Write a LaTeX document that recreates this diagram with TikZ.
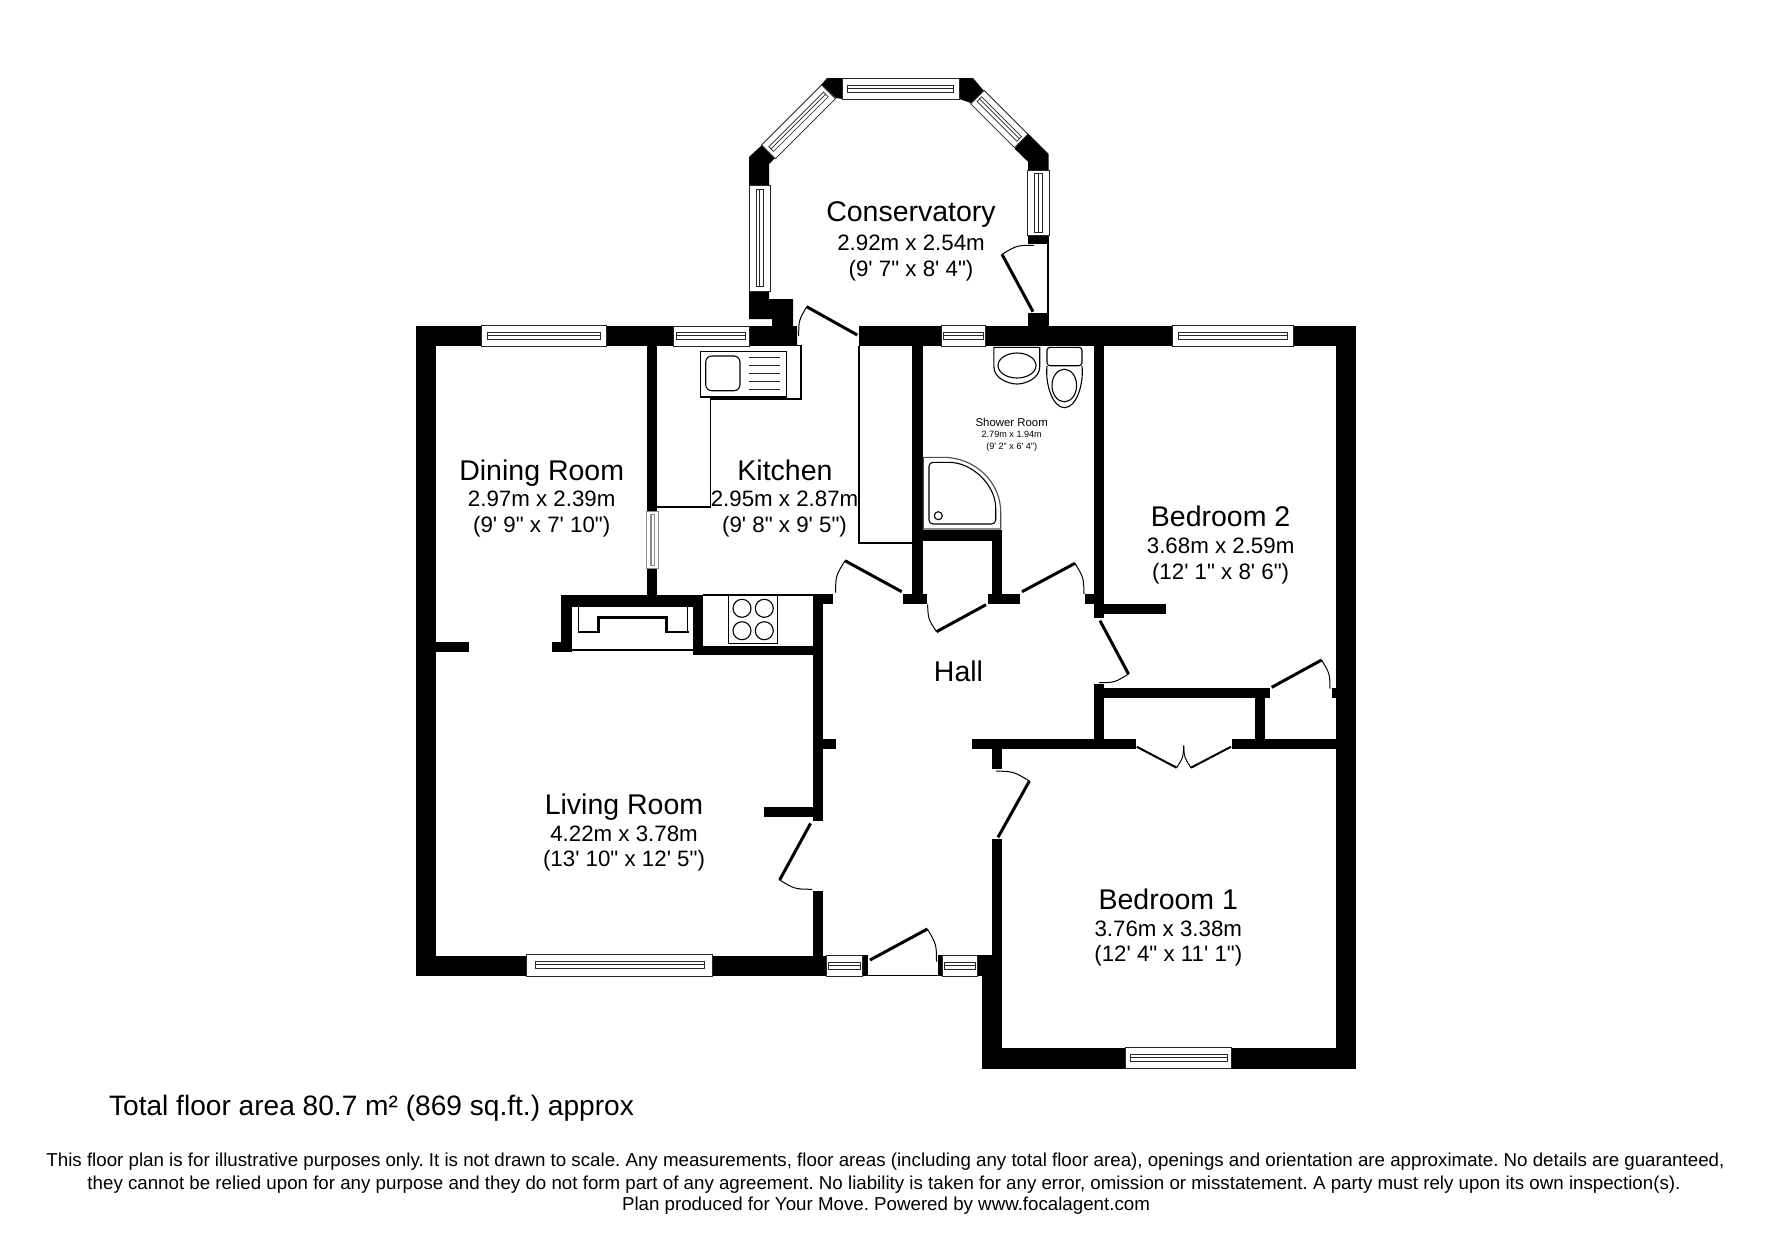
\documentclass[tikz,border=0pt]{standalone}
\usepackage{fontspec}
\setmainfont{Liberation Sans}[Ligatures=TeXOff]
\frenchspacing
\newcommand{\wl}[4]{\fill[black] (#1,#2) rectangle (#3,#4);}
\newcommand{\wpoly}[1]{\fill[black] #1 -- cycle;}
\newcommand{\win}[6][black!85]{%
  \begin{scope}[shift={(#2,#3)},rotate=#6]
    \pgfmathsetmacro\hl{#4/2}\pgfmathsetmacro\ht{#5/2}
    \pgfmathsetmacro\il{\hl-0.045*#4}\pgfmathsetmacro\it{0.17*#5}
    \draw[winout,draw=#1] (-\hl,-\ht) rectangle (\hl,\ht);
    \draw[winin,draw=#1] (-\il,-\it) rectangle (\il,\it);
    \draw[winin,draw=#1] (-\il,-0.3) -- (\il,-0.3);
  \end{scope}}
\newcommand{\door}[7][3]{%
  \pgfmathsetmacro\cx{#2+((#4-#2)+(#6-#2))*0.536}
  \pgfmathsetmacro\cy{#3+((#5-#3)+(#7-#3))*0.536}
  \draw[line width=#1pt] (#2,#3) -- (#4,#5);
  \draw[line width=1pt] (#4,#5) .. controls (\cx,\cy) .. (#6,#7);}
\newcommand{\lab}[5]{\node[txt,font=\fontsize{#4}{#4}\selectfont] (#1) at (#2,#3) {#5};}
\begin{document}
\begin{tikzpicture}[x=1pt,y=-1pt,
  winout/.style={line width=0.8pt,fill=white},
  winin/.style={line width=0.7pt},
  thinline/.style={draw=black,line width=1.1pt},
  fixture/.style={draw=black,line width=1.1pt},
  txt/.style={anchor=base,inner sep=0pt,text=black}]
\useasboundingbox (0,0) rectangle (1771,1240);
\fill[white] (0,0) rectangle (1771,1240);

% outer walls
\wl{415.5}{326}{797}{345.5}
\wl{415.5}{326}{436}{976}
\wl{415.5}{955.7}{826.7}{976}
\wl{859}{326}{1356}{346}
\wl{1335.7}{326}{1356}{1069}
\wl{982}{1048.3}{1356}{1069}
\wl{982}{976}{1002.3}{1069}
\wl{992}{839}{1002.3}{1049}
\wl{977}{955.3}{992}{976}
\wl{862}{955.3}{868.4}{976}
\wl{938}{955.3}{942.7}{976}

% conservatory
\wpoly{(749,291) -- (769,291) -- (769,299) -- (793,299) -- (793,327) -- (797,327) -- (797,345) -- (749,345) -- (749,326) -- (772,326) -- (772,319) -- (749,319)}
\wpoly{(749,157) -- (762,145) -- (775,158) -- (769,164) -- (769,185) -- (749,185)}
\wpoly{(821,85) -- (827,78) -- (843,78) -- (843,99) -- (836,98)}
\wpoly{(959,78) -- (973,78) -- (984,91) -- (971,103) -- (959,99)}
\wpoly{(1027.5,133) -- (1048.6,154) -- (1048.6,171) -- (1028,171) -- (1028,161.7) -- (1014.6,148.7)}
\wl{1028}{235}{1048.6}{244}
\wl{1028}{313.3}{1048.6}{327}
\draw[thinline] (1048,244) -- (1048,314);

% interior walls
\wl{647}{346}{657}{595}
\wl{561}{594.7}{703}{606.7}
\wl{561}{594.7}{571.7}{652}
\wl{551.7}{641.7}{571.7}{652.3}
\wl{571.7}{648.5}{693}{651}
\wl{693}{606}{703.3}{655}
\wl{693}{646}{823.3}{655}
\wl{812.5}{594.7}{823.3}{821}
\wl{812.5}{890.7}{823.3}{976}
\wl{813}{594}{833.3}{604.3}
\wl{823}{738.7}{836}{749}
\wl{764.3}{807}{813}{817}
\wl{435}{641.7}{469}{652.3}
\wl{912}{346}{922.5}{604.3}
\wl{903}{594}{926.5}{604.3}
\wl{912}{530}{1002.4}{540.7}
\wl{992.4}{530}{1002.4}{604.3}
\wl{987.6}{594}{1020}{604.3}
\wl{1094}{346}{1104}{618.3}
\wl{1085}{594}{1104}{604.3}
\wl{1094}{604}{1165.5}{613.7}
\wl{1094}{684}{1104}{749}
\wl{1094}{687.7}{1270.2}{698.3}
\wl{1255.4}{698}{1265.4}{739}
\wl{972.4}{738.7}{1136}{749}
\wl{1231.7}{738.7}{1336}{749}
\wl{1331.6}{687.7}{1336}{698.3}
\wl{992.4}{749}{1002.4}{769.3}

% windows
\win{543.85}{336}{124.3}{21}{0}
\win{711}{336}{76}{20}{0}
\win{963.2}{336}{44.4}{21}{0}
\win{1232.75}{336}{120.5}{21}{0}
\win{619.5}{965}{185.6}{22}{0}
\win{844.35}{965.5}{35.3}{21}{0}
\win{959.85}{965.5}{34.3}{21}{0}
\win{1178.7}{1058}{106}{21.7}{0}
\win{900.75}{88.8}{116.5}{21}{0}
\win{759.5}{238}{106}{21}{90}
\win{1038.5}{203}{64.3}{22}{90}
\win[black!45]{652}{540}{56.6}{12}{90}
\win{798.5}{121.8}{85}{19.5}{45}
\win{999.3}{119}{61.9}{19}{-45}

% doors
\door{857.3}{335}{806.7}{306.7}{798.7}{336}
\door{1033}{311.7}{1002}{254.3}{1034}{245.3}
\door{901.7}{591.7}{845}{560.7}{835.5}{592.7}
\door{986}{604.7}{936.5}{631.7}{927.6}{604.3}
\door{1022}{591.7}{1075}{563.3}{1084}{594}
\door{1100}{620.7}{1128.5}{674}{1099}{682.7}
\door{1271.7}{687.3}{1321.6}{660}{1330}{688.7}
\door[2]{1136.7}{746.7}{1176.6}{767.7}{1183.7}{745.7}
\door[2]{1231}{746.7}{1191}{767.7}{1183.7}{745.7}
\door{998}{837.3}{1029.4}{781}{996}{771}
\door{810.6}{823.3}{779.6}{880}{812}{889.3}
\door{870}{960}{927.4}{929}{936.5}{961.7}
\draw[thinline] (868,975.3) -- (938,975.3);

% kitchen fittings
\draw[thinline] (797,345.5) -- (801,345.5) -- (801,399) -- (710.3,399) -- (710.3,507) -- (657,507);
\draw[thinline] (859,346) -- (859,543) -- (912,543);
\draw[thinline] (703,595) -- (813,595);
\draw[fixture,fill=white] (700.3,351.7) rectangle (786.7,397);
\draw[line width=1.6pt] (710.3,398) -- (786.7,398);
\draw[fixture,rounded corners=6pt] (705.7,356) rectangle (740,390.7);
\foreach \ly in {357.7,365.7,373.7,381.7,389.7}{\draw[line width=1pt,black!85] (748.7,\ly) -- (780,\ly);}
\draw[fixture] (728.3,595.3) rectangle (777.7,643.3);
\draw[fixture] (742,608.3) circle[radius=9pt];
\draw[fixture] (764.3,608.3) circle[radius=9pt];
\draw[fixture] (742,630.7) circle[radius=9pt];
\draw[fixture] (764.3,630.7) circle[radius=9pt];

% fireplace
\draw[line width=1pt] (578.3,606.7) -- (578.3,632);
\draw[line width=1pt] (687.7,606.7) -- (687.7,632);
\draw[line width=2.6pt] (577.5,632) -- (598.3,632) -- (598.3,617.7) -- (666.7,617.7) -- (666.7,632) -- (688.5,632);

% shower room fittings
\draw[fixture] (993.9,347.3) -- (1039.7,347.3) -- (1039.7,367) .. controls (1039.7,378) and (1026,384) .. (1017,384) .. controls (1008,384) and (993.9,378) .. (993.9,367) -- cycle;
\draw[fixture] (1017,365.5) ellipse[x radius=19pt,y radius=12.5pt];
\draw[fixture,rounded corners=3pt] (1047,347.3) rectangle (1082,365.7);
\draw[fixture] (1047,366) .. controls (1045,385) and (1053,407.7) .. (1064.5,407.7) .. controls (1076,407.7) and (1084,385) .. (1082,366);
\draw[fixture] (1064.3,385.5) ellipse[x radius=12.3pt,y radius=16.3pt];
\draw[draw=black!70,line width=1.1pt] (923.3,529) -- (923.3,457.3) -- (943,457.3) .. controls (975,457.3) and (1000.7,482) .. (1000.7,512) -- (1000.7,529) -- cycle;
\draw[fixture,rounded corners=4pt] (929,524) -- (929,462.3) -- (945,462.3) .. controls (972,462.3) and (995.7,485) .. (995.7,512) -- (995.7,524) -- cycle;
\draw[fixture] (938.3,515.7) circle[radius=4pt];

% labels
\lab{consA}{911}{221.7}{28.5}{Conservatory}
\lab{consB}{911}{250}{22.3}{2.92m x 2.54m}
\lab{consC}{911}{276}{22.3}{(9' 7" x 8' 4")}
\lab{dinA}{541.7}{480.7}{28.5}{Dining Room}
\lab{dinB}{541.7}{506.7}{22.3}{2.97m x 2.39m}
\lab{dinC}{541.7}{532}{22.3}{(9' 9" x 7' 10")}
\lab{kitA}{785}{480.7}{28.5}{Kitchen}
\lab{kitB}{784.5}{506.7}{22.3}{2.95m x 2.87m}
\lab{kitC}{784.5}{532}{22.3}{(9' 8" x 9' 5")}
\lab{shoA}{1011.7}{426.7}{11.4}{Shower Room}
\lab{shoB}{1011.7}{437.7}{9.1}{2.79m x 1.94m}
\lab{shoC}{1011.7}{449}{9.1}{(9' 2" x 6' 4")}
\lab{bedTwoA}{1220.6}{526.7}{28.5}{Bedroom 2}
\lab{bedTwoB}{1220.6}{553.3}{22.3}{3.68m x 2.59m}
\lab{bedTwoC}{1220.6}{579.3}{22.3}{(12' 1" x 8' 6")}
\lab{hall}{958.5}{681}{28.5}{Hall}
\lab{livA}{624}{814}{28.5}{Living Room}
\lab{livB}{624}{841}{22.3}{4.22m x 3.78m}
\lab{livC}{624}{866}{22.3}{(13' 10" x 12' 5")}
\lab{bedOneA}{1168.3}{909}{28.5}{Bedroom 1}
\lab{bedOneB}{1168.3}{936}{22.3}{3.76m x 3.38m}
\lab{bedOneC}{1168.3}{961.7}{22.3}{(12' 4" x 11' 1")}
\lab{total}{371.5}{1115}{28.1}{Total floor area 80.7 m² (869 sq.ft.) approx}
\lab{discA}{885.5}{1166.7}{18.72}{This floor plan is for illustrative purposes only. It is not drawn to scale. Any measurements, floor areas (including any total floor area), openings and orientation are approximate. No details are guaranteed,}
\lab{discB}{884}{1189}{18.72}{they cannot be relied upon for any purpose and they do not form part of any agreement. No liability is taken for any error, omission or misstatement. A party must rely upon its own inspection(s).}
\lab{discC}{886}{1210}{18.72}{Plan produced for Your Move. Powered by www.focalagent.com}
\end{tikzpicture}
\end{document}
